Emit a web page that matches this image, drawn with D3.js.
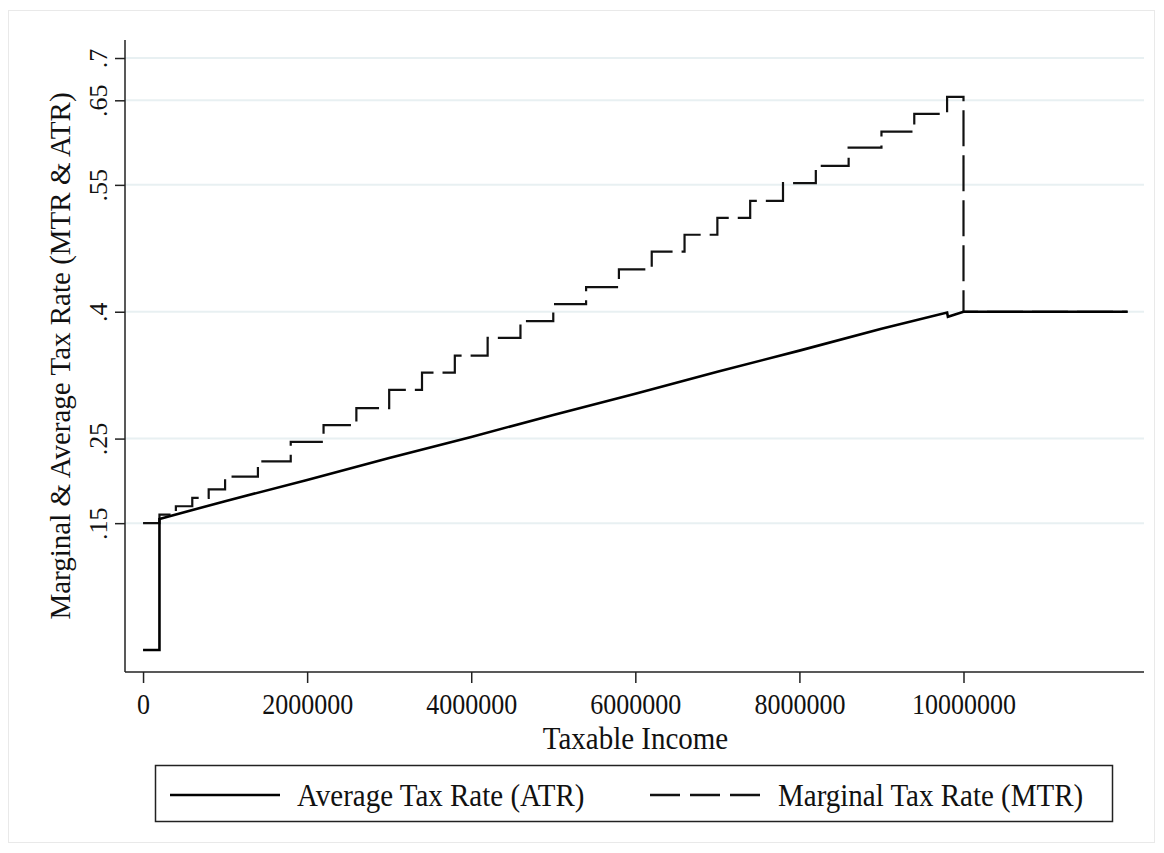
<!DOCTYPE html>
<html>
<head>
<meta charset="utf-8">
<script src="https://cdn.jsdelivr.net/npm/d3@7"></script>
<style>
  html, body { margin: 0; padding: 0; background: #fff; }
  svg { display: block; }
  text { font-family: "Liberation Serif", "Times New Roman", serif; fill: #111; }
</style>
</head>
<body>
<svg id="chart" width="1164" height="853"></svg>
<script>
// Taxable income breakpoints and the marginal tax rate (MTR) that applies from each one
const mtrIncome = [0, 200000, 400000, 600000, 800000, 1000000,
  1400000, 1800000, 2200000, 2600000, 3000000, 3400000, 3800000, 4200000,
  4600000, 5000000, 5400000, 5800000, 6200000, 6600000, 7000000, 7400000,
  7800000, 8200000, 8600000, 9000000, 9400000, 9800000, 10000000, 12000000];
const mtrRate = [0.15, 0.16, 0.17, 0.18, 0.19, 0.205,
  0.223, 0.246, 0.266, 0.286, 0.3075, 0.328, 0.348, 0.369,
  0.389, 0.409, 0.429, 0.450, 0.471, 0.491, 0.511, 0.531,
  0.552, 0.5725, 0.594, 0.613, 0.634, 0.654, 0.40, 0.40];

// Average tax rate (ATR) along taxable income
const atrIncome = [0, 200000, 200000, 1000000, 2000000, 3000000, 4000000, 5000000,
  6000000, 7000000, 8000000, 9000000, 9800000, 9810000, 10000000, 12000000];
const atrRate = [0, 0, 0.155, 0.176, 0.201, 0.227, 0.252, 0.278,
  0.303, 0.329, 0.354, 0.380, 0.399, 0.394, 0.40, 0.40];

// Axis ticks
const xTicks = [0, 2000000, 4000000, 6000000, 8000000, 10000000];
const xTickLabels = ["0", "2000000", "4000000", "6000000", "8000000", "10000000"];
const yTicks = [0.15, 0.25, 0.4, 0.55, 0.65, 0.7];
const yTickLabels = [".15", ".25", ".4", ".55", ".65", ".7"];

const seriesNames = ["Average Tax Rate (ATR)", "Marginal Tax Rate (MTR)"];

const svg = d3.select("#chart");
const plot = { left: 125, right: 1144, top: 40, bottom: 672 };
const TALL = 1.1; // vertical stretch of the serif lettering

// faint outer frame
svg.append("rect")
  .attr("x", 8.5).attr("y", 10.5)
  .attr("width", 1146).attr("height", 832)
  .attr("fill", "#fff").attr("stroke", "#e9e9e9").attr("stroke-width", 1);

const x = d3.scaleLinear().domain([-220000, 12200000]).range([plot.left, plot.right]);
const y = d3.scaleLinear().domain([-0.026, 0.7213]).range([plot.bottom, plot.top]);

// horizontal grid lines at the y ticks
svg.append("g").selectAll("line")
  .data(yTicks)
  .join("line")
  .attr("x1", plot.left).attr("x2", plot.right)
  .attr("y1", d => y(d)).attr("y2", d => y(d))
  .attr("stroke", "#e8f0f2").attr("stroke-width", 2);

// x axis
const xAxis = svg.append("g")
  .attr("transform", `translate(0,${plot.bottom})`)
  .call(d3.axisBottom(x).tickValues(xTicks)
    .tickFormat((d, i) => xTickLabels[i]).tickSize(11).tickSizeOuter(0));
xAxis.select(".domain").attr("stroke", "#222").attr("stroke-width", 1.5)
  .attr("d", `M${plot.left},0H${plot.right}`);
xAxis.selectAll(".tick line").attr("stroke", "#222").attr("stroke-width", 1.5);
xAxis.selectAll(".tick text")
  .style("font-family", "Liberation Serif").style("font-size", "26px").attr("fill", "#111")
  .attr("y", 0).attr("dy", 0)
  .attr("transform", `translate(0,42) scale(1,${TALL})`);

// y axis with rotated tick labels
const yAxis = svg.append("g")
  .attr("transform", `translate(${plot.left},0)`)
  .call(d3.axisLeft(y).tickValues(yTicks)
    .tickFormat((d, i) => yTickLabels[i]).tickSize(10).tickSizeOuter(0));
yAxis.select(".domain").attr("stroke", "#222").attr("stroke-width", 1.5)
  .attr("d", `M0,${plot.top}V${plot.bottom}`);
yAxis.selectAll(".tick line").attr("stroke", "#222").attr("stroke-width", 1.5);
yAxis.selectAll(".tick text")
  .style("font-family", "Liberation Serif").style("font-size", "26px").attr("fill", "#111")
  .attr("transform", "rotate(-90)")
  .attr("x", 0).attr("y", -18).attr("dy", 0)
  .attr("text-anchor", "middle");

// axis titles
svg.append("text")
  .attr("transform", `translate(${(plot.left + plot.right) / 2 + 1},749) scale(1,${TALL})`)
  .attr("text-anchor", "middle")
  .style("font-size", "29px")
  .text("Taxable Income");

svg.append("text")
  .attr("transform", `translate(70,${(85 + 627) / 2}) rotate(-90)`)
  .attr("text-anchor", "middle")
  .style("font-size", "29px")
  .text("Marginal & Average Tax Rate (MTR & ATR)");

// series
const mtrData = mtrIncome.map((v, i) => [v, mtrRate[i]]);
const atrData = atrIncome.map((v, i) => [v, atrRate[i]]);

const stepLine = d3.line().x(d => x(d[0])).y(d => y(d[1])).curve(d3.curveStepAfter);
const straightLine = d3.line().x(d => x(d[0])).y(d => y(d[1]));

svg.append("path")
  .datum(mtrData)
  .attr("d", stepLine)
  .attr("fill", "none").attr("stroke", "#111").attr("stroke-width", 2.2)
  .attr("stroke-dasharray", "36,9");

svg.append("path")
  .datum(atrData)
  .attr("d", straightLine)
  .attr("fill", "none").attr("stroke", "#000").attr("stroke-width", 2.6)
  .attr("stroke-linejoin", "miter");

// legend
const lg = svg.append("g");
lg.append("rect")
  .attr("x", 155.5).attr("y", 765.5).attr("width", 957).attr("height", 56)
  .attr("fill", "#fff").attr("stroke", "#222").attr("stroke-width", 1.5);
lg.append("line")
  .attr("x1", 170).attr("x2", 280).attr("y1", 795).attr("y2", 795)
  .attr("stroke", "#000").attr("stroke-width", 2.4);
lg.append("text")
  .attr("transform", `translate(297,806) scale(1,${TALL})`)
  .style("font-size", "29px")
  .text(seriesNames[0]);
lg.append("line")
  .attr("x1", 650).attr("x2", 760).attr("y1", 795).attr("y2", 795)
  .attr("stroke", "#111").attr("stroke-width", 2.4)
  .attr("stroke-dasharray", "30,10");
lg.append("text")
  .attr("transform", `translate(778,806) scale(1,${TALL})`)
  .style("font-size", "29px")
  .text(seriesNames[1]);
</script>
</body>
</html>
